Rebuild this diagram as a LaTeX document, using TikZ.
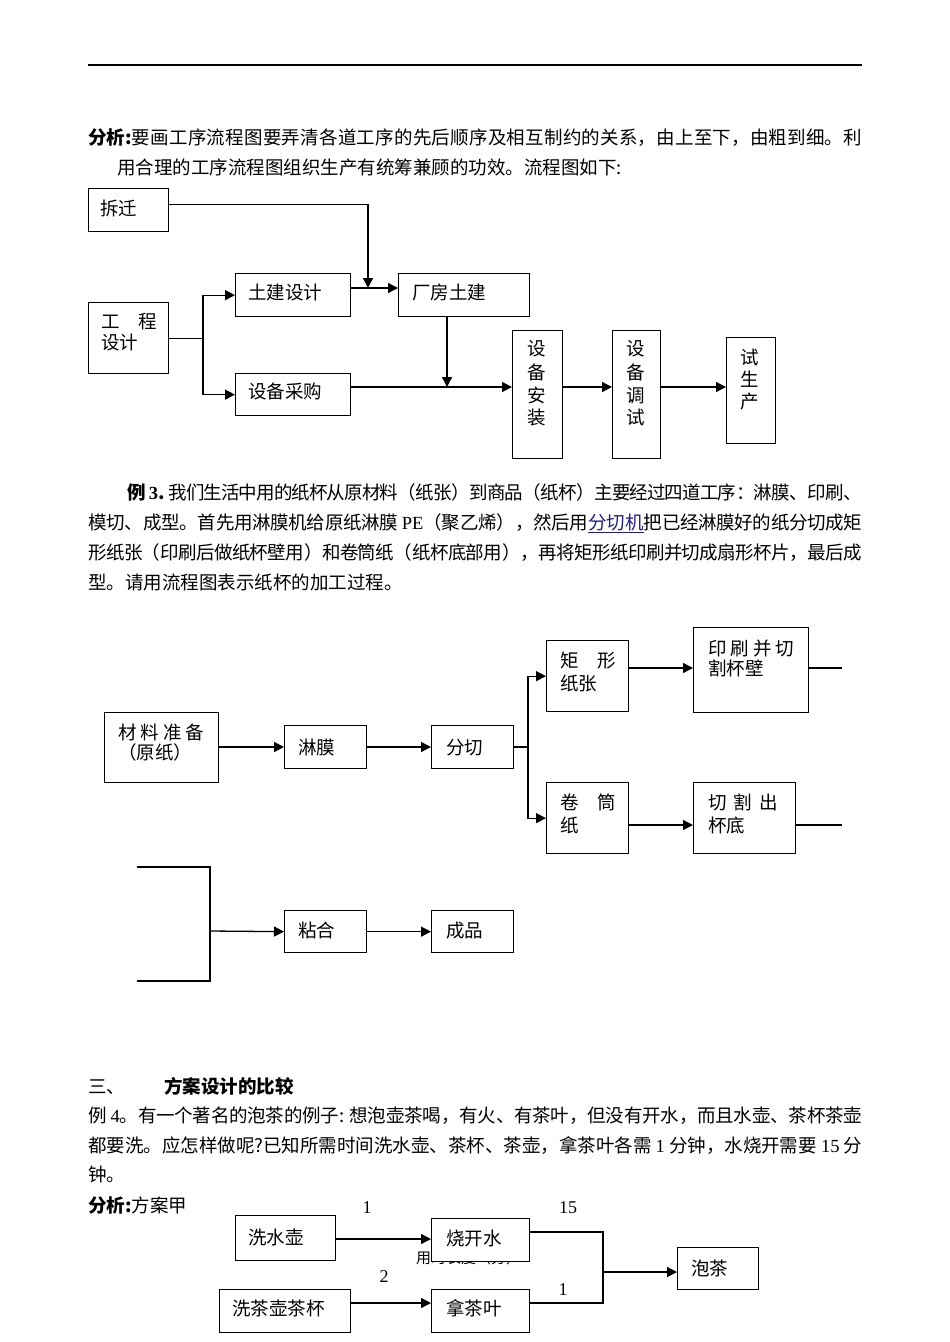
\documentclass[tikz,border=0pt]{standalone}
\usepackage{fontspec}
\setmainfont{Noto Sans CJK SC}
\newfontfamily\lat{Liberation Serif}
\usetikzlibrary{arrows.meta}
\XeTeXlinebreaklocale "zh"
\XeTeXlinebreakskip=0pt plus 3pt minus 1.5pt
\definecolor{linkblue}{RGB}{30,30,150}
\tikzset{
  box/.style={draw, line width=1.3pt, inner sep=0pt, anchor=north west, fill=white},
  t/.style={inner sep=0pt, anchor=base west, font=\fontsize{18.5}{22}\selectfont},
  num/.style={inner sep=0pt, anchor=center, font=\lat\fontsize{18}{22}\selectfont},
  conn/.style={line width=1.3pt},
  arr/.style={line width=1.3pt, -{Triangle[length=10pt,width=10pt]}},
}
\newcommand\mybox[5]{\node[box, minimum width=#4pt, minimum height=#5pt] (#1) at (#2,#3) {};}
\newcommand\myjl[5]{\node[t] (#1) at (#2,#3) {\parbox[b]{#4pt}{\parfillskip=0pt\relax #5}};}
\begin{document}
\begin{tikzpicture}[x=1pt,y=-1pt]
\fill[white] (0,0) rectangle (950,1342);
\useasboundingbox (0,0) rectangle (950,1342);
% top rule
\coordinate (r1) at (88,65); \coordinate (r2) at (862,65);
\draw[line width=1.6pt] (r1) -- (r2);
% paragraph 1
\myjl{p1}{88}{144}{774}{{\bfseries 分析:}要画工序流程图要弄清各道工序的先后顺序及相互制约的关系，由上至下，由粗到细。利}
\node[t] (p2) at (117,174) {用合理的工序流程图组织生产有统筹兼顾的功效。流程图如下:};
% diagram 1
\mybox{chai}{88}{188}{80}{43}
\mybox{gc}{88}{302}{80}{71}
\mybox{tj}{235}{273}{115}{43}
\mybox{cg}{235}{373}{115}{42}
\mybox{cf}{398}{273}{131}{43}
\mybox{az}{512}{330}{50}{128}
\mybox{ts}{612}{330}{48}{128}
\mybox{ss}{726}{337}{49}{106}
\node[t] (tchai) at (100,215) {拆迁};
\node[t] (tgc1) at (101,328) {工\hspace{1em}程};
\node[t] (tgc2) at (101,349) {设计};
\node[t] (ttj) at (248,299) {土建设计};
\node[t] (tcg) at (248,398) {设备采购};
\node[t] (tcf) at (412,299) {厂房土建};
\foreach \c/\yy [count=\i] in {设/348,备/372,安/395,装/417}
  \node[t, anchor=base] (az\i) at (537,\yy+7) {\c};
\foreach \c/\yy [count=\i] in {设/348,备/372,调/395,试/417}
  \node[t, anchor=base] (ts\i) at (636,\yy+7) {\c};
\foreach \c/\yy [count=\i] in {试/357,生/379,产/401}
  \node[t, anchor=base] (ss\i) at (750,\yy+7) {\c};
\coordinate (j1) at (368,288);
\coordinate (b1) at (203,337);
\coordinate (j2) at (447,387);
\draw[arr] ([yshift=6pt]chai.east) -| (j1);
\draw[arr] (tj.east |- j1) -- (cf.west |- j1);
\draw[conn] (gc.east) -- (gc.east -| b1);
\draw[arr] (gc.east -| b1) |- (tj.west);
\draw[arr] (gc.east -| b1) |- (cg.west);
\draw[arr] (cf.south -| j2) -- (j2);
\draw[arr] (cg.east |- j2) -- (az.west |- j2);
\draw[arr] (az.east |- j2) -- (ts.west |- j2);
\draw[arr] (ts.east |- j2) -- (ss.west |- j2);
% paragraph example 3
\myjl{e1}{127}{499}{735}{{\bfseries 例\,{\lat 3}.}\hspace{4pt}我们生活中用的纸杯从原材料（纸张）到商品（纸杯）主要经过四道工序：淋膜、印刷、}
\myjl{e2}{88}{529}{774}{模切、成型。首先用淋膜机给原纸淋膜 {\lat PE}（聚乙烯），然后用{\color{linkblue}\underline{分切机}}把已经淋膜好的纸分切成矩}
\myjl{e3}{88}{559}{774}{形纸张（印刷后做纸杯壁用）和卷筒纸（纸杯底部用），再将矩形纸印刷并切成扇形杯片，最后成}
\node[t] (e4) at (88,589) {型。请用流程图表示纸杯的加工过程。};
% diagram 2
\mybox{cl}{104}{712}{114}{70}
\mybox{lm}{284}{725}{82}{43}
\mybox{fq}{431}{725}{82}{43}
\mybox{jx}{546}{640}{82}{71}
\mybox{ys}{693}{627}{115}{85}
\mybox{jt}{546}{782}{82}{71}
\mybox{qg}{693}{782}{102}{71}
\node[t] (tcl1) at (118,739) {材\hspace{4pt}料\hspace{4pt}准\hspace{4pt}备};
\node[t] (tcl2) at (118,759) {（原纸）};
\node[t] (tlm) at (298,754) {淋膜};
\node[t] (tfq) at (446,754) {分切};
\node[t] (tjx1) at (560,667) {矩\hspace{1em}形};
\node[t] (tjx2) at (560,690) {纸张};
\node[t] (tys1) at (708,655) {印\hspace{4pt}刷\hspace{4pt}并\hspace{4pt}切};
\node[t] (tys2) at (708,675) {割杯壁};
\node[t] (tjt1) at (560,809) {卷\hspace{1em}筒};
\node[t] (tjt2) at (560,832) {纸};
\node[t] (tqg1) at (708,809) {切\hspace{7pt}割\hspace{7pt}出};
\node[t] (tqg2) at (708,832) {杯底};
\coordinate (b2) at (528,747);
\coordinate (y1) at (0,668);
\coordinate (y2) at (0,825);
\coordinate (o1) at (842,668);
\coordinate (o2) at (842,825);
\draw[arr] (cl.east |- b2) -- (lm.west |- b2);
\draw[arr] (lm.east |- b2) -- (fq.west |- b2);
\draw[conn] (fq.east |- b2) -- (b2);
\draw[arr] (b2) |- (jx.west);
\draw[arr] (b2) |- (jt.west);
\draw[arr] (jx.east |- y1) -- (ys.west |- y1);
\draw[conn] (ys.east |- y1) -- (o1);
\draw[arr] (jt.east |- y2) -- (qg.west |- y2);
\draw[conn] (qg.east |- y2) -- (o2);
% diagram 3
\mybox{zh}{284}{910}{82}{42}
\mybox{cp}{431}{910}{82}{42}
\node[t] (tzh) at (298,937) {粘合};
\node[t] (tcp) at (446,937) {成品};
\coordinate (k1) at (137,867); \coordinate (k2) at (210,867);
\coordinate (k3) at (210,981); \coordinate (k4) at (137,981);
\coordinate (k5) at (210,931);
\draw[conn] (k1) -- (k2) -- (k3) -- (k4);
\draw[arr] (k5) -- (zh.west);
\draw[arr] (zh.east) -- (cp.west);
% section 3
\node[t] (s1) at (88,1093) {三、};
\node[t] (s2) at (164,1093) {\bfseries 方案设计的比较};
\myjl{f1}{88}{1122}{774}{例 {\lat 4}。有一个著名的泡茶的例子: 想泡壶茶喝，有火、有茶叶，但没有开水，而且水壶、茶杯茶壶}
\myjl{f2}{88}{1152}{774}{都要洗。应怎样做呢?已知所需时间洗水壶、茶杯、茶壶，拿茶叶各需 {\lat 1} 分钟，水烧开需要 {\lat 15} 分}
\node[t] (f3) at (88,1181) {钟。};
\node[t] (f4) at (88,1212) {{\bfseries 分析:}方案甲};
% diagram 4
\node[t, font=\fontsize{15}{18}\selectfont] (hid) at (416,1263) {用时长度（分）};
\mybox{xsh}{235}{1215}{100}{45}
\mybox{sks}{431}{1218}{98}{43}
\mybox{xcb}{219}{1289}{131}{43}
\mybox{ncy}{431}{1289}{98}{43}
\mybox{pc}{677}{1247}{81}{42}
\node[t] (txsh) at (248,1244) {洗水壶};
\node[t] (tsks) at (446,1245) {烧开水};
\node[t] (txcb) at (232,1315) {洗茶壶茶杯};
\node[t] (tncy) at (446,1315) {拿茶叶};
\node[t] (tpc) at (691,1275) {泡茶};
\node[num] (n1) at (367,1208) {1};
\node[num] (n2) at (568,1208) {15};
\node[num] (n3) at (384,1277) {2};
\node[num] (n4) at (563,1290) {1};
\coordinate (h1) at (0,1239);
\coordinate (h2) at (0,1303);
\coordinate (h3) at (603,1232);
\coordinate (h4) at (603,1272);
\draw[arr] (xsh.east |- h1) -- (sks.west |- h1);
\draw[arr] (xcb.east |- h2) -- (ncy.west |- h2);
\draw[conn] (sks.east |- h3) -- (h3) -- (h3 |- h2) -- (ncy.east |- h2);
\draw[arr] (h4) -- (pc.west |- h4);
\end{tikzpicture}
\end{document}
